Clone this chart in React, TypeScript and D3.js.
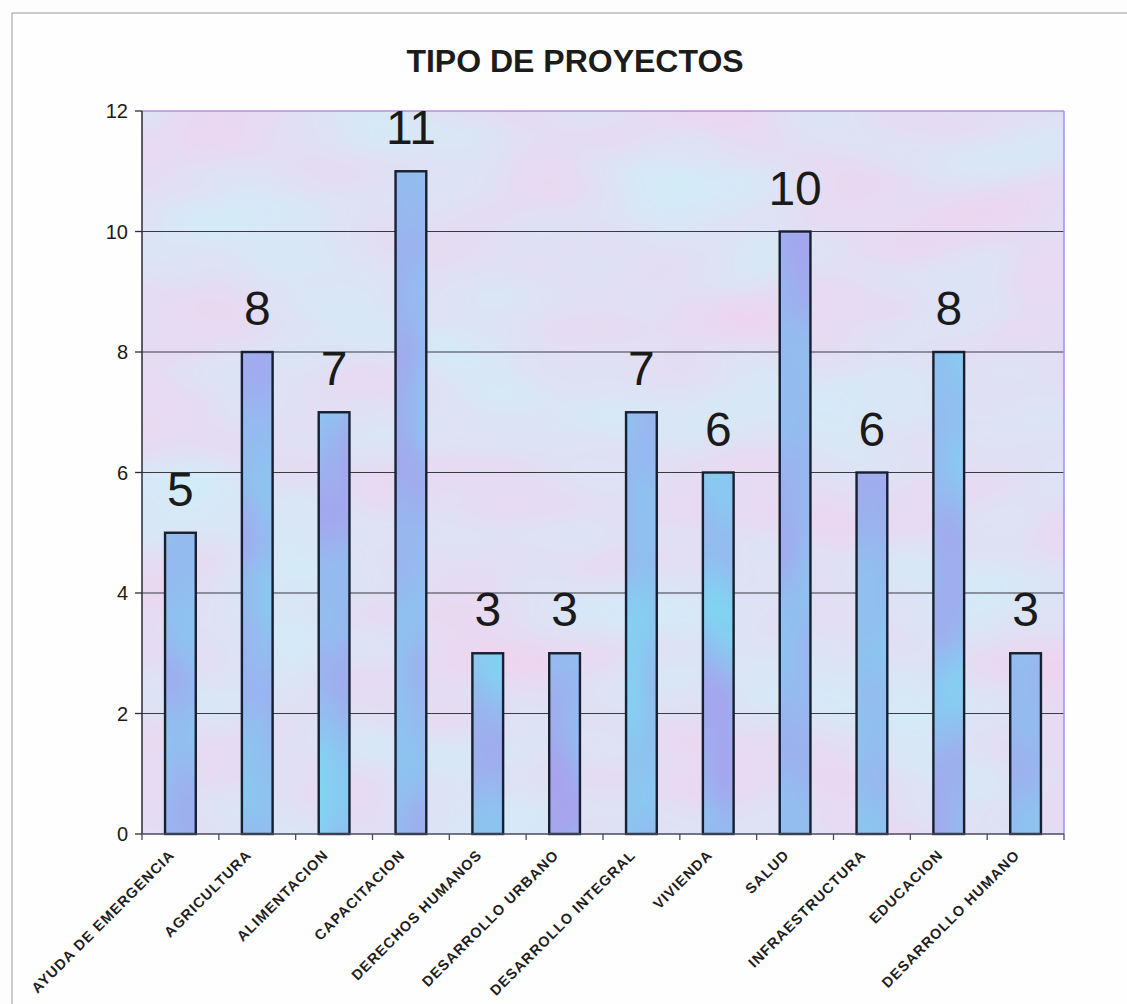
import React from "react";
import * as d3 from "d3";

const categories = [
  "AYUDA DE EMERGENCIA",
  "AGRICULTURA",
  "ALIMENTACION",
  "CAPACITACION",
  "DERECHOS HUMANOS",
  "DESARROLLO URBANO",
  "DESARROLLO INTEGRAL",
  "VIVIENDA",
  "SALUD",
  "INFRAESTRUCTURA",
  "EDUCACION",
  "DESARROLLO HUMANO",
];
const values = [5, 8, 7, 11, 3, 3, 7, 6, 10, 6, 8, 3];
const yTicks = [0, 2, 4, 6, 8, 10, 12];
const title = "TIPO DE PROYECTOS";

const W = 1127;
const H = 1004;
const plot = { left: 142, right: 1064, top: 111, bottom: 834 };
const FONT = "'Liberation Sans', Arial, Helvetica, sans-serif";

export default function App() {
  const x = d3
    .scaleBand<string>()
    .domain(categories)
    .range([plot.left, plot.right])
    .paddingInner(0.6)
    .paddingOuter(0.3);
  const y = d3.scaleLinear().domain([0, 12]).range([plot.bottom, plot.top]);
  const step = x.step();
  const bw = x.bandwidth();
  const center = (c: string) => (x(c) as number) + bw / 2;
  const boundaries = d3.range(categories.length + 1).map((i) =>
    i < categories.length ? center(categories[i]) - step / 2 : center(categories[i - 1]) + step / 2
  );

  return (
    <div style={{ position: "absolute", left: 0, top: 0, width: W, height: H, background: "#fdfdfd" }}>
      <svg width={W} height={H} style={{ display: "block" }}>
        <defs>
          <filter
            id="mottle"
            x="0"
            y="0"
            width="1"
            height="1"
            filterUnits="objectBoundingBox"
            colorInterpolationFilters="sRGB"
          >
            <feTurbulence type="fractalNoise" baseFrequency="0.005 0.011" numOctaves="2" seed="7" result="n" />
            <feColorMatrix
              in="n"
              type="matrix"
              values="0.188 0 0 0 0.784  -0.158 0 0 0 0.9575  -0.056 0 0 0 0.983  0 0 0 0 1"
            />
          </filter>
          <filter
            id="barmottle"
            x="0"
            y="0"
            width="1"
            height="1"
            filterUnits="objectBoundingBox"
            colorInterpolationFilters="sRGB"
          >
            <feTurbulence type="fractalNoise" baseFrequency="0.012 0.007" numOctaves="2" seed="3" result="n" />
            <feColorMatrix
              in="n"
              type="matrix"
              values="0.244 0 0 0 0.464  -0.306 0 0 0 0.8805  -0.016 0 0 0 0.945  0 0 0 0 1"
            />
          </filter>
          <clipPath id="barsClip">
            {categories.map((c, i) => (
              <rect key={c} x={x(c)} y={y(values[i])} width={bw} height={y(0) - y(values[i])} />
            ))}
          </clipPath>
        </defs>

        {/* outer chart frame */}
        <rect x={12} y={13} width={1200} height={1100} fill="#fefefe" stroke="#9a9a9a" strokeWidth={1} />

        {/* title */}
        <text x={575} y={72} textAnchor="middle" fontFamily={FONT} fontWeight="bold" fontSize={32} fill="#1c1c1c">
          {title}
        </text>

        {/* plot background */}
        <rect
          x={plot.left}
          y={plot.top}
          width={plot.right - plot.left}
          height={plot.bottom - plot.top}
          filter="url(#mottle)"
        />

        {/* gridlines */}
        {yTicks
          .filter((t) => t > 0 && t < 12)
          .map((t) => (
            <line key={t} x1={plot.left} x2={plot.right} y1={y(t)} y2={y(t)} stroke="#3a3a44" strokeWidth={1.2} />
          ))}
        {/* top and right border */}
        <line x1={plot.left} x2={plot.right} y1={y(12)} y2={y(12)} stroke="#b28fe6" strokeWidth={1.5} />
        <line x1={plot.right} x2={plot.right} y1={plot.top} y2={plot.bottom} stroke="#a58fe8" strokeWidth={1.5} />

        {/* bars */}
        <g clipPath="url(#barsClip)">
          <rect
            x={plot.left}
            y={plot.top}
            width={plot.right - plot.left}
            height={plot.bottom - plot.top}
            filter="url(#barmottle)"
          />
        </g>
        {categories.map((c, i) => (
          <rect
            key={c}
            x={x(c)}
            y={y(values[i])}
            width={bw}
            height={y(0) - y(values[i])}
            fill="none"
            stroke="#16202e"
            strokeWidth={2.4}
          />
        ))}

        {/* data labels */}
        {categories.map((c, i) => (
          <text
            key={c}
            x={center(c)}
            y={y(values[i]) - 27}
            textAnchor="middle"
            fontFamily={FONT}
            fontSize={48}
            fill="#1a1a1a"
          >
            {values[i]}
          </text>
        ))}

        {/* y axis */}
        <line x1={plot.left} x2={plot.left} y1={plot.top} y2={plot.bottom} stroke="#2a2a3a" strokeWidth={1.5} />
        {yTicks.map((t) => (
          <g key={t}>
            <line x1={plot.left - 7} x2={plot.left} y1={y(t)} y2={y(t)} stroke="#2a2a3a" strokeWidth={1.3} />
            <text
              x={plot.left - 14}
              y={y(t)}
              dy="0.35em"
              textAnchor="end"
              fontFamily={FONT}
              fontSize={20}
              fill="#1a1a1a"
            >
              {t}
            </text>
          </g>
        ))}

        {/* x axis */}
        <line x1={plot.left} x2={plot.right} y1={plot.bottom} y2={plot.bottom} stroke="#4a4a5e" strokeWidth={1.5} />
        {boundaries.map((bx, i) => (
          <line key={i} x1={bx} x2={bx} y1={plot.bottom} y2={plot.bottom + 6} stroke="#4a4a5e" strokeWidth={1.3} />
        ))}
        {categories.map((c) => (
          <text
            key={c}
            transform={`translate(${center(c) - 5},${856}) rotate(-45)`}
            textAnchor="end"
            fontFamily={FONT}
            fontWeight="bold"
            fontSize={14.5}
            letterSpacing={1}
            fill="#1e1e1e"
          >
            {c}
          </text>
        ))}
      </svg>
    </div>
  );
}
